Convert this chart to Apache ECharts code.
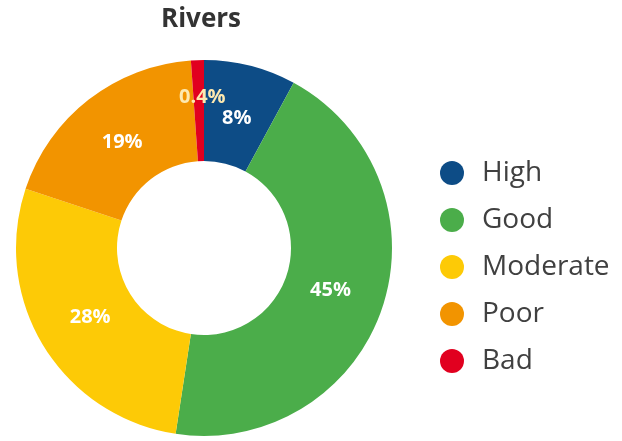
<!DOCTYPE html>
<html>
<head>
<meta charset="utf-8">
<script src="https://cdn.jsdelivr.net/npm/echarts@6/dist/echarts.min.js"></script>
<style>
  html, body { margin: 0; padding: 0; background: #ffffff; }
  #chart { width: 622px; height: 441px; }
</style>
</head>
<body>
<div id="chart"></div>
<script>
// Ecological status of rivers, share of water bodies per class
const categories = ['High', 'Good', 'Moderate', 'Poor', 'Bad'];
const shares = [8, 45, 28, 19, 0.4];
const colors = ['#0d4c86', '#4bad4a', '#fdca06', '#f29400', '#e1001f'];

const ringData = categories.map((name, i) => ({
  name: name,
  value: shares[i],
  itemStyle: { color: colors[i] }
}));

// Same values again, carrying only the percentage labels (slightly nearer the hole)
const labelData = categories.map((name, i) => ({
  name: name,
  value: shares[i],
  label: name === 'Bad' ? { offset: [3, -17], color: '#fde9b0' } : undefined
}));

const common = {
  type: 'pie',
  center: [204, 248],
  startAngle: 90,
  clockwise: true,
  minAngle: 4,
  avoidLabelOverlap: false,
  labelLine: { show: false },
  emphasis: { disabled: true },
  labelLayout: { hideOverlap: false }
};

const chart = echarts.init(document.getElementById('chart'));
chart.setOption({
  animation: false,
  color: colors,
  title: {
    text: 'Rivers',
    left: 196,
    textAlign: 'center',
    top: 2,
    textStyle: { fontFamily: 'Open Sans', fontWeight: 'bold', fontSize: 26, color: '#333333' }
  },
  legend: {
    orient: 'vertical',
    left: 435,
    top: 154,
    icon: 'circle',
    itemWidth: 24,
    itemHeight: 24,
    itemGap: 19,
    data: categories,
    textStyle: {
      fontFamily: 'Open Sans', fontSize: 28, color: '#404040',
      lineHeight: 26, padding: [0, 0, 0, 13]
    }
  },
  series: [
    Object.assign({}, common, {
      name: 'ring',
      radius: [87, 188],
      label: { show: false },
      itemStyle: { borderWidth: 0 },
      data: ringData
    }),
    Object.assign({}, common, {
      name: 'labels',
      radius: [73, 188],
      silent: true,
      legendHoverLink: false,
      itemStyle: { color: 'rgba(0,0,0,0)', borderWidth: 0 },
      label: {
        show: true,
        position: 'inside',
        formatter: '{c}%',
        color: '#ffffff',
        fontFamily: 'Open Sans',
        fontWeight: 'bold',
        fontSize: 20
      },
      data: labelData
    })
  ]
});
</script>
</body>
</html>
